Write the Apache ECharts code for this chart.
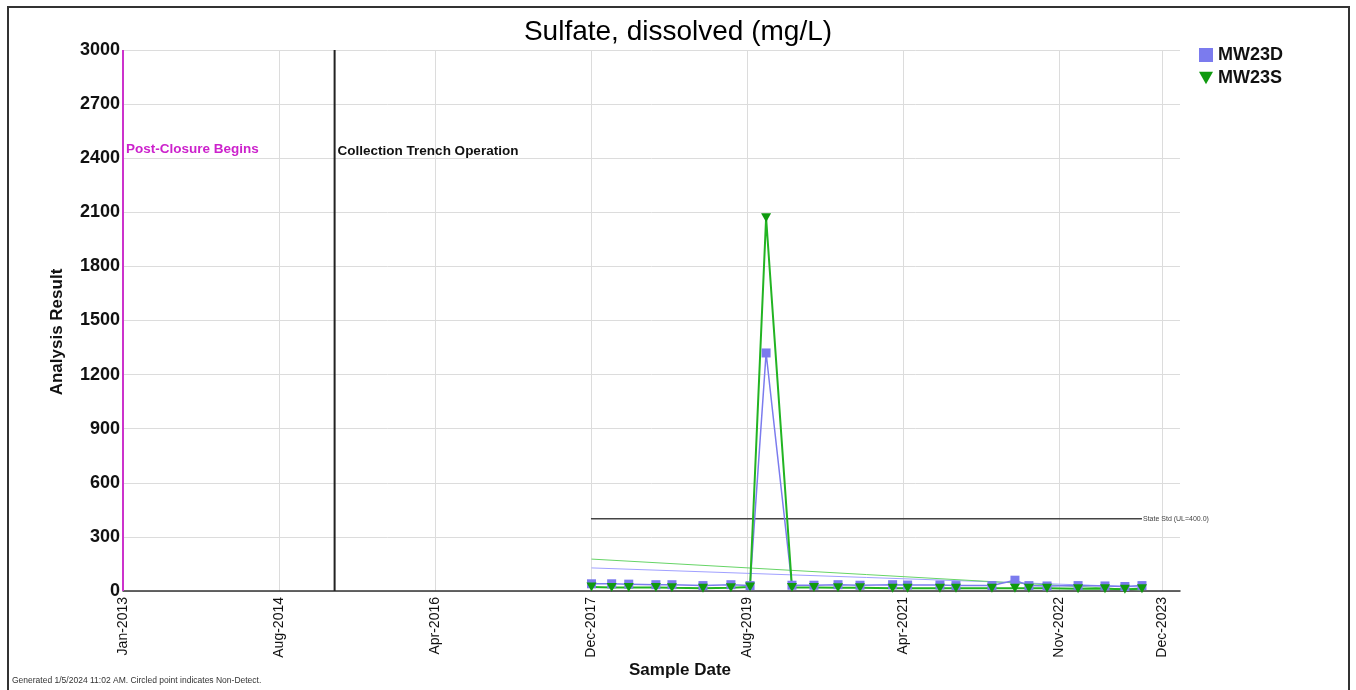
<!DOCTYPE html>
<html>
<head>
<meta charset="utf-8">
<script src="https://cdn.jsdelivr.net/npm/echarts@6/dist/echarts.min.js"></script>
<style>
  html, body { margin: 0; padding: 0; background: #fff; }
  #chart { width: 1356px; height: 690px; }
</style>
</head>
<body>
<div id="chart"></div>
<script>
// Sample dates and results (mg/L)
const sampleDates = [
  '2017-12-17', '2018-03-05', '2018-05-10', '2018-08-23', '2018-10-24',
  '2019-02-21', '2019-06-09', '2019-08-22', '2019-10-23', '2020-01-31',
  '2020-04-25', '2020-07-27', '2020-10-20', '2021-02-23', '2021-04-22',
  '2021-08-25', '2021-10-26', '2022-03-14', '2022-06-11', '2022-08-04',
  '2022-10-13', '2023-02-10', '2023-05-25', '2023-08-10', '2023-10-15'
];
const mw23d = [40, 40, 38, 35, 35, 30, 35, 30, 1320, 32, 32, 35, 32, 35, 33, 33, 30, 30, 60, 30, 28, 30, 28, 25, 30];
const mw23s = [22, 20, 20, 20, 18, 15, 18, 22, 2070, 20, 20, 18, 18, 15, 15, 15, 15, 15, 15, 15, 15, 12, 12, 10, 12];

// Trend lines (start / end)
const trendDates = ['2017-12-17', '2023-10-15'];
const trendD = [128, 22];
const trendS = [177, 5];

// State standard
const stdDates = ['2017-12-15', '2023-10-15'];
const stdValue = 400;

// Event lines
const postClosureDate = '2013-01-01';
const trenchDate = '2015-03-30';

// Axis ticks
const xTickDates = ['2013-01-01', '2014-08-27', '2016-04-21', '2017-12-15', '2019-08-10', '2021-04-04', '2022-11-28', '2023-12-31'];
const xTickLabels = ['Jan-2013', 'Aug-2014', 'Apr-2016', 'Dec-2017', 'Aug-2019', 'Apr-2021', 'Nov-2022', 'Dec-2023'];
const xMinDate = '2013-01-01';
const xMaxDate = '2024-03-10';
const yTicks = [0, 300, 600, 900, 1200, 1500, 1800, 2100, 2400, 2700, 3000];

// Dates are plotted as UTC day numbers on a value axis
const DAY = 86400000;
const ts = s => {
  const [y, m, d] = s.split('-').map(Number);
  return Date.UTC(y, m - 1, d) / DAY;
};
const tickTs = xTickDates.map(ts);

const pairs = (dates, vals) => dates.map((d, i) => [ts(d), vals[i]]);
const triDown = 'path://M0,0 L10,0 L5,9 Z';
const FONT = '"Liberation Sans", Arial, sans-serif';

const chart = echarts.init(document.getElementById('chart'), null, { renderer: 'canvas' });

chart.setOption({
  animation: false,
  backgroundColor: '#fff',
  textStyle: { fontFamily: FONT },
  title: {
    text: 'Sulfate, dissolved (mg/L)',
    left: 'center',
    top: 13,
    textStyle: { fontFamily: FONT, fontSize: 28, fontWeight: 'normal', color: '#000' }
  },
  legend: {
    orient: 'vertical',
    left: 1194,
    top: 41,
    itemWidth: 14,
    itemHeight: 14,
    itemGap: 5,
    data: [
      { name: 'MW23D', icon: 'rect' },
      { name: 'MW23S', icon: triDown }
    ],
    textStyle: { fontFamily: FONT, fontSize: 18, fontWeight: 'bold', color: '#111' }
  },
  grid: { left: 123, right: 176, top: 50, bottom: 99, containLabel: false },
  xAxis: {
    type: 'value',
    min: ts(xMinDate),
    max: ts(xMaxDate),
    axisLine: { show: true, lineStyle: { color: '#333', width: 1.5 } },
    axisTick: { show: false, customValues: tickTs },
    axisLabel: {
      customValues: tickTs,
      rotate: 90,
      margin: 6,
      fontFamily: FONT,
      fontSize: 14,
      color: '#111',
      formatter: v => {
        const i = tickTs.findIndex(t => Math.abs(t - v) < 0.5);
        return i >= 0 ? xTickLabels[i] : '';
      }
    },
    splitLine: { show: true, lineStyle: { color: '#dcdcdc', width: 1 } }
  },
  yAxis: {
    type: 'value',
    min: yTicks[0],
    max: yTicks[yTicks.length - 1],
    interval: yTicks[1] - yTicks[0],
    axisLine: { show: false },
    axisTick: { show: false },
    axisLabel: {
      fontFamily: FONT, fontSize: 18, fontWeight: 'bold', color: '#111', margin: 3,
      formatter: v => String(v)
    },
    splitLine: { show: true, lineStyle: { color: '#dcdcdc', width: 1 } }
  },
  series: [
    {
      name: 'Post-Closure Begins',
      type: 'line',
      silent: true,
      symbol: 'none',
      lineStyle: { color: '#cc33cc', width: 2 },
      data: [[ts(postClosureDate), yTicks[0]], [ts(postClosureDate), yTicks[yTicks.length - 1]]],
      markPoint: {
        symbol: 'circle', symbolSize: 0,
        label: {
          show: true, position: 'right', distance: 3,
          formatter: 'Post-Closure Begins',
          fontFamily: FONT, fontSize: 13.5, fontWeight: 'bold', color: '#cc22cc'
        },
        data: [{ coord: [ts(postClosureDate), 2450] }]
      }
    },
    {
      name: 'Collection Trench Operation',
      type: 'line',
      silent: true,
      symbol: 'none',
      lineStyle: { color: '#222', width: 2 },
      data: [[ts(trenchDate), yTicks[0]], [ts(trenchDate), yTicks[yTicks.length - 1]]],
      markPoint: {
        symbol: 'circle', symbolSize: 0,
        label: {
          show: true, position: 'right', distance: 3,
          formatter: 'Collection Trench Operation',
          fontFamily: FONT, fontSize: 13.5, fontWeight: 'bold', color: '#111'
        },
        data: [{ coord: [ts(trenchDate), 2440] }]
      }
    },
    {
      name: 'State Std',
      type: 'line',
      silent: true,
      symbol: 'none',
      lineStyle: { color: '#444', width: 1.5 },
      data: stdDates.map(d => [ts(d), stdValue]),
      endLabel: {
        show: true,
        distance: 1,
        formatter: 'State Std (UL=' + stdValue.toFixed(1) + ')',
        fontFamily: FONT, fontSize: 7, color: '#444'
      }
    },
    {
      name: 'MW23D trend',
      type: 'line',
      silent: true,
      symbol: 'none',
      lineStyle: { color: '#a0a0ff', width: 1 },
      data: pairs(trendDates, trendD)
    },
    {
      name: 'MW23S trend',
      type: 'line',
      silent: true,
      symbol: 'none',
      lineStyle: { color: '#66d466', width: 1 },
      data: pairs(trendDates, trendS)
    },
    {
      name: 'MW23D',
      type: 'line',
      symbol: 'rect',
      symbolSize: 9,
      itemStyle: { color: '#7b7bee' },
      lineStyle: { color: '#7b7bee', width: 1.5 },
      data: pairs(sampleDates, mw23d)
    },
    {
      name: 'MW23S',
      type: 'line',
      symbol: triDown,
      symbolSize: [10, 9],
      itemStyle: { color: '#0f9a0f' },
      lineStyle: { color: '#22b422', width: 2 },
      data: pairs(sampleDates, mw23s)
    }
  ],
  graphic: [
    {
      type: 'rect',
      silent: true,
      shape: { x: 8, y: 7, width: 1341, height: 690 },
      style: { fill: 'none', stroke: '#333', lineWidth: 2 }
    },
    {
      type: 'text',
      x: 57,
      y: 332,
      rotation: Math.PI / 2,
      style: {
        text: 'Analysis Result',
        font: 'bold 17px ' + FONT,
        fill: '#111',
        align: 'center',
        verticalAlign: 'middle'
      }
    },
    {
      type: 'text',
      x: 680,
      y: 670,
      style: {
        text: 'Sample Date',
        font: 'bold 17px ' + FONT,
        fill: '#111',
        align: 'center',
        verticalAlign: 'middle'
      }
    },
    {
      type: 'text',
      x: 12,
      y: 681,
      style: {
        text: 'Generated 1/5/2024 11:02 AM. Circled point indicates Non-Detect.',
        font: '8.5px ' + FONT,
        fill: '#333',
        verticalAlign: 'middle'
      }
    }
  ]
});
</script>
</body>
</html>
